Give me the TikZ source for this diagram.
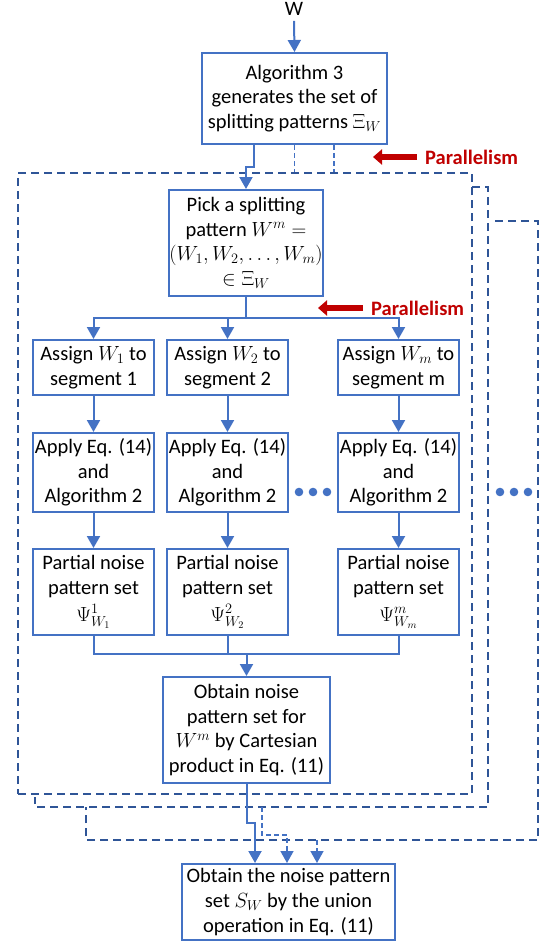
\RequirePackage{fix-cm}
\documentclass[tikz,border=0pt]{standalone}
\usepackage{fontspec}
\setmainfont{Carlito}
\usetikzlibrary{arrows.meta,calc}

\definecolor{boxblue}{HTML}{4472C4}
\definecolor{pageblue}{HTML}{2F5597}
\definecolor{parred}{HTML}{C00000}

\tikzset{
  box/.style={draw=boxblue, line width=2pt, fill=white, align=center,
    inner sep=0pt, font=\fontsize{20.5}{24.6}\selectfont},
  colbox/.style={box, minimum width=121pt},
  flow/.style={draw=boxblue, line width=2pt,
    -{Triangle[width=13pt,length=12pt]}},
  wire/.style={draw=boxblue, line width=2pt},
  linkdash/.style={draw=boxblue, line width=1.6pt, dash pattern=on 5pt off 3pt},
  pagedash/.style={draw=pageblue, line width=2.2pt, dash pattern=on 8pt off 5pt},
  pararrow/.style={draw=parred, line width=5.5pt,
    -{Triangle[width=15pt,length=9pt]}},
  partext/.style={text=parred, anchor=west, inner sep=0pt,
    font=\fontsize{20.5}{24.6}\selectfont\bfseries},
  dot/.style={fill=boxblue}
}

\begin{document}
\begin{tikzpicture}[x=1pt,y=-1pt]
\useasboundingbox (0,0) rectangle (540,943);

% stacked pages standing for the parallel splitting patterns
\draw[pagedash] (495,221) -- (538,221) -- (538,840) -- (86,840) -- (86,807);
\draw[pagedash] (472,187) -- (488,187) -- (488,807) -- (35,807) -- (35,797);
\node[pagedash, minimum width=454pt, minimum height=621pt, inner sep=0pt]
  (page) at (245,483.5) {};

% input and generation of splitting patterns
\node[inner sep=0pt, font=\fontsize{20.5}{24.6}\selectfont] (w) at (294,9) {W};
\node[box, minimum width=185pt, minimum height=91pt] (alg) at (294.5,98.5)
  {Algorithm 3\\ generates the set of\\ splitting patterns $\Xi_W$};

\node[box, minimum width=152pt, minimum height=106pt] (pick) at (246,243)
  {Pick a splitting\\ pattern $W^m =$\\ $(W_1, W_2, \ldots, W_m)$\\ $\in \Xi_W$};

% one column per segment
\node[colbox, minimum height=55pt] (as1) at (93.5,367.5) {Assign $W_1$ to\\ segment 1};
\node[colbox, minimum height=55pt] (as2) at (227.5,367.5) {Assign $W_2$ to\\ segment 2};
\node[colbox, minimum height=55pt] (asm) at (398.5,367.5) {Assign $W_m$ to\\ segment m};

\node[colbox, minimum height=79pt] (ap1) at (93.5,472.5) {Apply Eq. (14)\\ and\\ Algorithm 2};
\node[colbox, minimum height=79pt] (ap2) at (227.5,472.5) {Apply Eq. (14)\\ and\\ Algorithm 2};
\node[colbox, minimum height=79pt] (apm) at (398.5,472.5) {Apply Eq. (14)\\ and\\ Algorithm 2};

\node[colbox, minimum height=86pt] (ps1) at (93.5,592) {Partial noise\\ pattern set\\[2pt] $\Psi^1_{W_1}$};
\node[colbox, minimum height=86pt] (ps2) at (227.5,592) {Partial noise\\ pattern set\\[2pt] $\Psi^2_{W_2}$};
\node[colbox, minimum height=86pt] (psm) at (398.5,592) {Partial noise\\ pattern set\\[2pt] $\Psi^m_{W_m}$};

\node[box, minimum width=167pt, minimum height=106pt] (cart) at (246.5,730)
  {Obtain noise\\ pattern set for\\ $W^m$ by Cartesian\\ product in Eq. (11)};

\node[box, minimum width=213pt, minimum height=76pt] (union) at (288.5,902)
  {Obtain the noise pattern\\ set $S_W$ by the union\\ operation in Eq. (11)};

% solid flow
\draw[flow] (w.south) ++(0,5) -- (alg.north);
\draw[flow] (alg.south) ++(-41,0) -- ++(0,22) -| (pick.north);

\draw[wire] (pick.south) -- ++(0,21) coordinate (split);
\draw[flow] (split) -| (as1.north);
\draw[flow] (split) -| (as2.north);
\draw[flow] (split) -| (asm.north);

\foreach \c in {1,2,m}{
  \draw[flow] (as\c.south) -- (ap\c.north);
  \draw[flow] (ap\c.south) -- (ps\c.north);
}

\coordinate (merge) at ($(cart.north)+(0,-22)$);
\draw[wire] (ps1.south) |- (merge);
\draw[wire] (psm.south) |- (merge);
\draw[wire] (ps2.south) -- (ps2.south |- merge);
\draw[flow] (merge) -- (cart.north);

\draw[flow] (cart.south) -- ++(0,39) -| ([xshift=-33.5pt]union.north);

% dashed links to the parallel pages
\draw[linkdash] (alg.south) -- (alg.south |- page.north);
\draw[linkdash] ([xshift=39.5pt]alg.south) -- ([xshift=39.5pt]alg.south |- page.north);

\coordinate (out2) at (262,807);
\coordinate (out3) at (317,840);
\draw[linkdash, -{Triangle[width=13pt,length=12pt]}]
  (out2) -- (262,835) -| ([xshift=-1.5pt]union.north);
\draw[linkdash, -{Triangle[width=13pt,length=12pt]}]
  (out3) -- (out3 |- union.north);

% ellipses
\foreach \x in {299,313,327,500,514,528}
  \fill[dot] (\x,492) circle (4.3pt);

% parallelism markers
\draw[pararrow] (417,157) -- (373,157);
\node[partext] (par1) at (425,157) {Parallelism};
\draw[pararrow] (363,308) -- (318,308);
\node[partext] (par2) at (371,308) {Parallelism};
\end{tikzpicture}
\end{document}
